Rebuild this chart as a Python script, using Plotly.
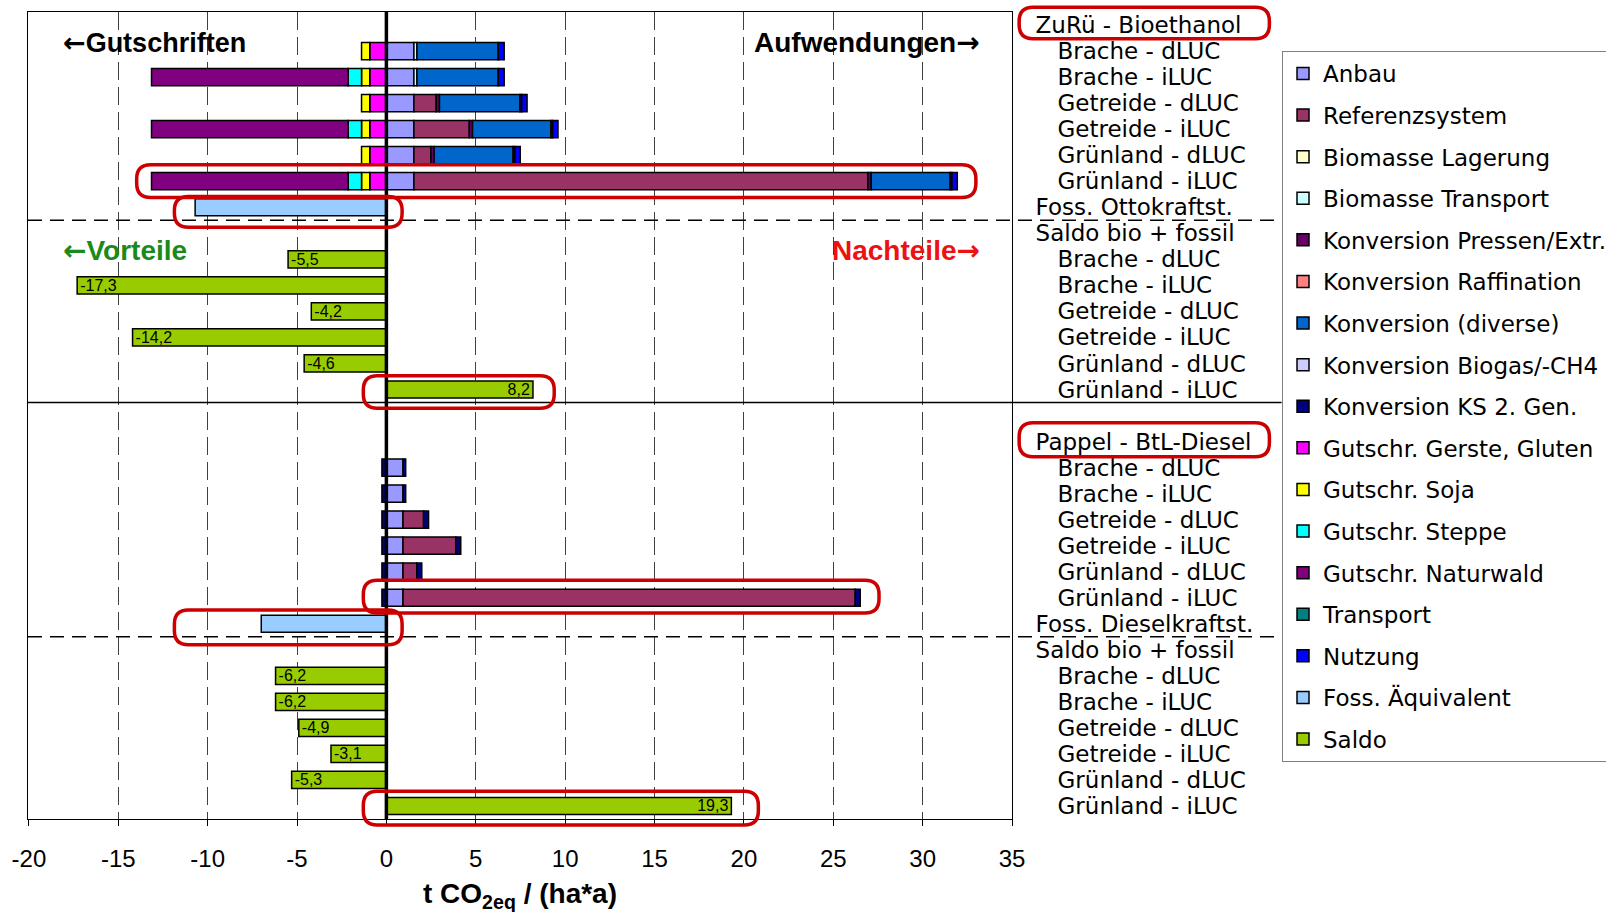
import plotly.graph_objects as go

FONT = "Liberation Sans, Arial, sans-serif"
LFONT = "DejaVu Sans, Liberation Sans, sans-serif"
INDENT = "\u00a0\u00a0\u00a0"

# ---------------- data ----------------
sub_rows = ["Brache - dLUC", "Brache - iLUC", "Getreide - dLUC",
            "Getreide - iLUC", "Grünland - dLUC", "Grünland - iLUC"]
eth_title = "ZuRü - Bioethanol"
btl_title = "Pappel - BtL-Diesel"
eth_fossil_label = "Foss. Ottokraftst."
btl_fossil_label = "Foss. Dieselkraftst."
saldo_title = "Saldo bio + fossil"
x_ticks = [-20, -15, -10, -5, 0, 5, 10, 15, 20, 25, 30, 35]

# ZuRü - Bioethanol components, t CO2eq/(ha*a)
eth_anbau = [1.54, 1.54, 1.54, 1.54, 1.54, 1.54]
eth_referenz = [0, 0, 1.25, 3.10, 0.95, 25.40]
eth_bio_transport = [0.17, 0.17, 0, 0, 0, 0]
eth_pressen = [0, 0, 0.18, 0.18, 0.18, 0.18]
eth_konv_diverse = [4.55, 4.55, 4.50, 4.38, 4.42, 4.42]
eth_ks2 = [0, 0, 0.10, 0.10, 0.10, 0.10]
eth_gerste = [-0.93, -0.93, -0.93, -0.93, -0.93, -0.93]
eth_soja = [-0.46, -0.46, -0.46, -0.46, -0.46, -0.46]
eth_steppe = [0, -0.75, 0, -0.75, 0, -0.75]
eth_naturwald = [0, -11.0, 0, -11.0, 0, -11.0]
eth_nutzung = [0.33, 0.33, 0.30, 0.30, 0.30, 0.30]
eth_fossil = [-10.7]
eth_saldo = [-5.5, -17.3, -4.2, -14.2, -4.6, 8.2]

# Pappel - BtL-Diesel components
btl_anbau = [0.93, 0.93, 0.93, 0.93, 0.93, 0.93]
btl_referenz = [0, 0, 1.15, 2.95, 0.77, 25.30]
btl_ks2_credit = [-0.25, -0.25, -0.25, -0.25, -0.25, -0.25]
btl_ks2 = [0.15, 0.15, 0.28, 0.28, 0.28, 0.28]
btl_fossil = [-7.0]
btl_saldo = [-6.2, -6.2, -4.9, -3.1, -5.3, 19.3]

series_names = ["Anbau", "Referenzsystem", "Biomasse Lagerung", "Biomasse Transport",
                "Konversion Pressen/Extr.", "Konversion Raffination", "Konversion (diverse)",
                "Konversion Biogas/-CH4", "Konversion KS 2. Gen.", "Gutschr. Gerste, Gluten",
                "Gutschr. Soja", "Gutschr. Steppe", "Gutschr. Naturwald", "Transport",
                "Nutzung", "Foss. Äquivalent", "Saldo"]
series_colors = ["#9999FF", "#993366", "#FFFFCC", "#CCFFFF", "#660066", "#FF8080",
                 "#0066CC", "#CCCCFF", "#000080", "#FF00FF", "#FFFF00", "#00FFFF",
                 "#800080", "#008080", "#0000FF", "#99CCFF", "#99CC00"]
eth_components = {"Anbau": eth_anbau, "Referenzsystem": eth_referenz,
                  "Biomasse Transport": eth_bio_transport,
                  "Konversion Pressen/Extr.": eth_pressen,
                  "Konversion (diverse)": eth_konv_diverse,
                  "Konversion KS 2. Gen.": eth_ks2,
                  "Gutschr. Gerste, Gluten": eth_gerste, "Gutschr. Soja": eth_soja,
                  "Gutschr. Steppe": eth_steppe, "Gutschr. Naturwald": eth_naturwald,
                  "Nutzung": eth_nutzung}
btl_components = {"Anbau": btl_anbau, "Referenzsystem": btl_referenz,
                  "Konversion KS 2. Gen.": btl_ks2_credit}
btl_extra = {"Konversion KS 2. Gen.": btl_ks2}   # positive part, after Referenzsystem

# ---------------- row layout (category rows) ----------------
row_labels = []


def add_row(label):
    row_labels.append(label)
    return len(row_labels) - 1


eth_title_row = add_row(eth_title)
eth_rows = [add_row(INDENT + s) for s in sub_rows]
eth_foss_row = add_row(eth_fossil_label)
add_row(saldo_title)
eth_saldo_rows = [add_row(INDENT + s) for s in sub_rows]
gap_row = add_row("\u00a0")
btl_title_row = add_row(btl_title)
btl_rows = [add_row(INDENT + s) for s in sub_rows]
btl_foss_row = add_row(btl_fossil_label)
add_row(saldo_title)
btl_saldo_rows = [add_row(INDENT + s) for s in sub_rows]
N = len(row_labels)


def nz(v):
    return v if v else None


def fmt(v):
    return f"{v:.1f}".replace(".", ",")


traces = []
for name, color in zip(series_names, series_colors):
    ys, xs = [], []
    kw = {}
    if name == "Foss. Äquivalent":
        ys = [eth_foss_row, btl_foss_row]
        xs = eth_fossil + btl_fossil
    elif name == "Saldo":
        ys = eth_saldo_rows + btl_saldo_rows
        xs = eth_saldo + btl_saldo
        kw = dict(text=[fmt(v) for v in xs], texttemplate="%{text}",
                  textposition="inside", insidetextanchor="end",
                  textangle=0, constraintext="none",
                  insidetextfont=dict(family=FONT, size=16, color="black"))
    else:
        if name in eth_components:
            ys += eth_rows
            xs += [nz(v) for v in eth_components[name]]
        if name in btl_components:
            ys += btl_rows
            xs += [nz(v) for v in btl_components[name]]
    if not ys:
        # series without values in this chart: keep it in the legend
        ys, xs = [gap_row], [0]
    traces.append(go.Bar(
        x=xs, y=ys, orientation="h", name=name, legendgroup=name,
        marker=dict(color=color, line=dict(color="black", width=1.5)),
        hoverinfo="x+name", **kw))
    if name == "Referenzsystem":
        # positive KS 2. Gen. part of the BtL bars, stacked right after Referenzsystem
        for ename, vals in btl_extra.items():
            traces.append(go.Bar(
                x=vals, y=btl_rows, orientation="h", name=ename, legendgroup=ename,
                showlegend=False, hoverinfo="x+name",
                marker=dict(color=series_colors[series_names.index(ename)],
                            line=dict(color="black", width=1.5))))

fig = go.Figure(data=traces)

X_RANGE = [-20.05, 35.0]
Y_RANGE = [N - 0.5, -0.5]
PW, PH = 984, 807


def xp(v):
    return (v - X_RANGE[0]) / (X_RANGE[1] - X_RANGE[0])


def yp(r):
    return (Y_RANGE[0] - r) / (Y_RANGE[0] - Y_RANGE[1])


def rounded(x0, x1, r0, r1, rad=14):
    a, b = xp(x0), xp(x1)
    top, bot = yp(r0), yp(r1)
    rx, ry = rad / PW, rad / PH
    p = (f"M{a+rx},{top} L{b-rx},{top} Q{b},{top} {b},{top-ry} "
         f"L{b},{bot+ry} Q{b},{bot} {b-rx},{bot} L{a+rx},{bot} "
         f"Q{a},{bot} {a},{bot+ry} L{a},{top-ry} Q{a},{top} {a+rx},{top} Z")
    return dict(type="path", path=p, xref="paper", yref="paper",
                line=dict(color="#CC0000", width=3.5), layer="above")


shapes = []
shapes.append(dict(type="line", xref="x", yref="paper", x0=0, x1=0, y0=0, y1=1,
                   line=dict(color="black", width=3.5), layer="above"))
LINE_END = 1.274
for r, dash in [(eth_foss_row + 0.5, "14px,8px"), (btl_foss_row + 0.5, "14px,8px"),
                (gap_row - 0.5, "solid")]:
    shapes.append(dict(type="line", xref="paper", yref="paper", x0=0, x1=LINE_END,
                       y0=yp(r), y1=yp(r), line=dict(color="black", width=1.5, dash=dash),
                       layer="above"))
shapes += [
    rounded(35.4, 49.4, eth_title_row - 0.68, eth_title_row + 0.53),
    rounded(-13.97, 32.98, eth_rows[5] - 0.63, eth_rows[5] + 0.63),
    rounded(-11.86, 0.88, eth_foss_row - 0.41, eth_foss_row + 0.77),
    rounded(-1.29, 9.39, eth_saldo_rows[5] - 0.53, eth_saldo_rows[5] + 0.72),
    rounded(35.4, 49.4, btl_title_row - 0.72, btl_title_row + 0.58),
    rounded(-1.29, 27.56, btl_rows[5] - 0.67, btl_rows[5] + 0.59),
    rounded(-11.86, 0.88, btl_foss_row - 0.53, btl_foss_row + 0.81),
    rounded(-1.29, 20.81, btl_saldo_rows[5] - 0.57, btl_saldo_rows[5] + 0.73),
]

ARW = '<span style="font-family:DejaVu Sans">%s</span>'
annotations = [
    dict(text="<b>t CO<sub>2eq</sub> / (ha*a)</b>", xref="paper", yref="paper",
         x=0.5, y=-0.0954, xanchor="center", yanchor="middle", showarrow=False,
         font=dict(family=FONT, size=28, color="black")),
    dict(text="<b>" + ARW % "←" + "Gutschriften</b>", xref="x", yref="paper", x=-18.2,
         y=0.9616, xanchor="left", yanchor="middle", showarrow=False,
         font=dict(family=FONT, size=27, color="black")),
    dict(text="<b>Aufwendungen" + ARW % "→" + "</b>", xref="x", yref="paper", x=33.3,
         y=0.9616, xanchor="right", yanchor="middle", showarrow=False,
         font=dict(family=FONT, size=28, color="black")),
    dict(text="<b>" + ARW % "←" + "Vorteile</b>", xref="x", yref="paper", x=-18.2,
         y=0.705, xanchor="left", yanchor="middle", showarrow=False,
         font=dict(family=FONT, size=28, color="#1A8A1A")),
    dict(text="<b>Nachteile" + ARW % "→" + "</b>", xref="x", yref="paper", x=33.3,
         y=0.705, xanchor="right", yanchor="middle", showarrow=False,
         font=dict(family=FONT, size=28, color="#EE1111")),
]

fig.update_layout(
    width=1606, height=912,
    margin=dict(l=28, r=594, t=12, b=93, autoexpand=False),
    paper_bgcolor="white", plot_bgcolor="white",
    barmode="relative", bargap=0.34,
    font=dict(family=FONT, color="black"),
    showlegend=True,
    legend=dict(x=1.2744, y=0.9517, xanchor="left", yanchor="top",
                bgcolor="white", bordercolor="#808080", borderwidth=1,
                font=dict(family=LFONT, size=23, color="black"),
                tracegroupgap=8.7, traceorder="grouped"),
    xaxis=dict(range=X_RANGE, tickmode="array", tickvals=x_ticks,
               ticktext=[str(v) for v in x_ticks], automargin=False,
               showgrid=True, gridcolor="#404040",
               gridwidth=1, griddash="18px,7px", zeroline=False,
               showline=True, linecolor="black", linewidth=1, mirror=True,
               ticks="outside", ticklen=6, tickcolor="black", ticklabelstandoff=12,
               tickfont=dict(family=FONT, size=24, color="black")),
    yaxis=dict(range=Y_RANGE, tickmode="array", tickvals=list(range(N)),
               ticktext=row_labels, side="right", showgrid=False, zeroline=False,
               automargin=False,
               showline=True, linecolor="black", linewidth=1, mirror=True,
               ticks="", ticklabelstandoff=18,
               tickfont=dict(family=LFONT, size=23, color="black")),
    shapes=shapes, annotations=annotations,
)

fig.write_html("out.html", include_plotlyjs=True, config={"displayModeBar": False},
               post_script="document.body.style.margin='0px';")
